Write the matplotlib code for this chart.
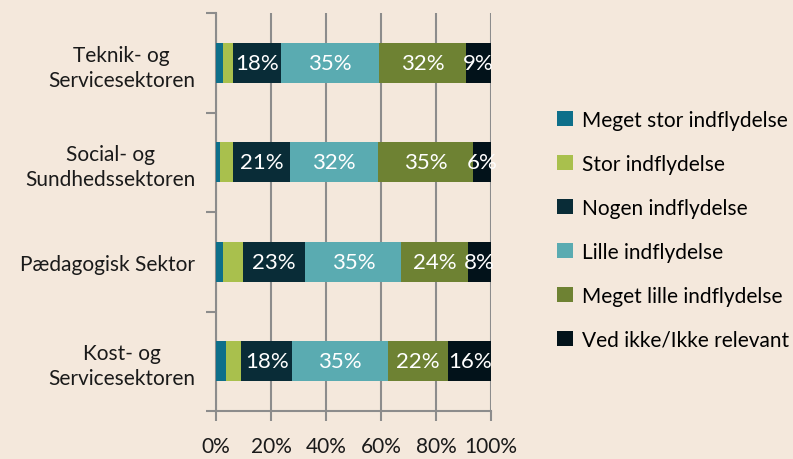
import numpy as np
import matplotlib.pyplot as plt
from matplotlib.patches import Patch

plt.rcParams['font.family'] = ['Lato', 'DejaVu Sans']

sectors = ['Teknik- og\nServicesektoren', 'Social- og\nSundhedssektoren',
           'Pædagogisk Sektor', 'Kost- og\nServicesektoren']
series = ['Meget stor indflydelse', 'Stor indflydelse', 'Nogen indflydelse',
          'Lille indflydelse', 'Meget lille indflydelse', 'Ved ikke/Ikke relevant']

meget_stor = [2.4, 1.6, 2.4, 3.8]
stor = [3.8, 4.6, 7.4, 5.4]
nogen = [17.6, 20.6, 22.7, 18.4]
lille = [35.4, 32.0, 34.9, 34.9]
meget_lille = [31.8, 34.8, 24.4, 22.0]
ved_ikke = [9.0, 6.4, 8.2, 15.5]

colors = ['#0e6f8a', '#a9c04d', '#092c37', '#5aabb1', '#6e8233', '#02121a']
bg = '#f4e8dc'

data = [meget_stor, stor, nogen, lille, meget_lille, ved_ikke]

fig = plt.figure(figsize=(7.93, 4.60), dpi=100, facecolor=bg)
ax = fig.add_axes([216/793, 1 - 412/460, 275/793, 398/460], facecolor=bg)

y = np.arange(len(sectors))
left = np.zeros(len(sectors))
for i, vals in enumerate(data):
    vals = np.array(vals)
    ax.barh(y, vals, left=left, height=0.4, color=colors[i], label=series[i], zorder=3)
    if i >= 2:
        for yy, l, v in zip(y, left, vals):
            ax.text(l + v / 2, yy, f'{round(v):.0f}%', color='white', fontsize=16,
                    ha='center', va='center', zorder=4)
    left += vals

ax.set_xlim(0, 100)
ax.set_ylim(len(sectors) - 0.5, -0.5)
ax.set_xticks(np.arange(0, 101, 20))
ax.set_xticklabels([f'{t}%' for t in range(0, 101, 20)], fontsize=15, color='#1a1a1a')
ax.set_yticks(y)
ax.set_yticklabels(sectors, fontsize=15, color='#1a1a1a', ha='right',
                   multialignment='center', linespacing=1.3)
ax.tick_params(axis='y', length=0, pad=15)
ax.set_yticks(np.arange(-0.5, len(sectors), 1), minor=True)
ax.tick_params(axis='y', which='minor', length=7, width=1.5, color='#8c8c8c')
ax.tick_params(axis='x', length=7, width=1.5, color='#8c8c8c', pad=11)
ax.grid(axis='x', color='#8c8c8c', linewidth=1.5, zorder=0)
for s in ['top', 'right']:
    ax.spines[s].set_visible(False)
for s in ['left', 'bottom']:
    ax.spines[s].set_color('#8c8c8c')
    ax.spines[s].set_linewidth(1.5)

handles = [Patch(facecolor=c, label=s) for c, s in zip(colors, series)]
fig.legend(handles=handles, loc='center left', bbox_to_anchor=(557/793, 1 - 231/460),
           frameon=False, fontsize=15, handlelength=0.75, handleheight=0.75,
           handletextpad=0.45, labelspacing=1.15, borderaxespad=0, borderpad=0)

fig.savefig('out.png', dpi=100, facecolor=bg)
